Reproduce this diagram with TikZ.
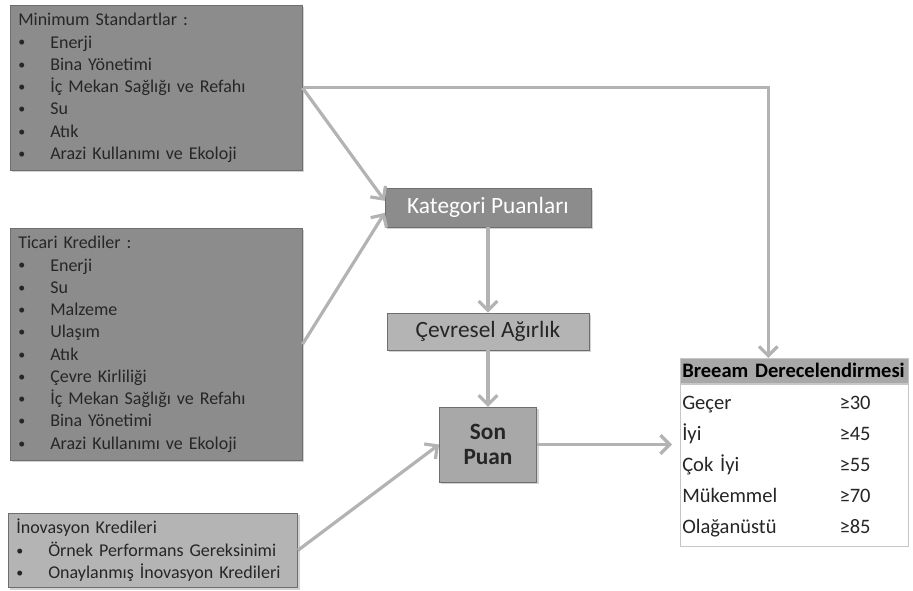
\documentclass[tikz,border=0pt]{standalone}
\usepackage{fontspec}
\setmainfont{Carlito}
\usetikzlibrary{arrows.meta, positioning, shadows}
\definecolor{boxdark}{HTML}{8C8C8C}
\definecolor{boxlight}{HTML}{B4B4B4}
\definecolor{boxmid}{HTML}{A8A8A8}
\definecolor{linegray}{HTML}{B3B3B3}
\definecolor{inkdark}{HTML}{262626}
\definecolor{edgegray}{HTML}{6E6E6E}
\newcommand{\itm}[1]{\makebox[24pt][l]{\raisebox{0.8pt}{\fontsize{10.5}{10.5}\selectfont\textbullet}}#1}
\tikzset{
  listbox/.style={rectangle, draw=edgegray, fill=boxdark, text=inkdark,
                  align=left, anchor=north west, inner xsep=6pt, inner ysep=6pt,
                  font=\fontsize{13.5}{16.7}\selectfont,
                  drop shadow={opacity=0.35, shadow xshift=1.5pt, shadow yshift=-1.5pt}},
  listboxL/.style={listbox, fill=boxlight},
  stepbox/.style={rectangle, draw=edgegray, fill=boxdark, align=center,
                  font=\fontsize{17.5}{20}\selectfont,
                  drop shadow={opacity=0.35, shadow xshift=1.5pt, shadow yshift=-1.5pt}},
  arrow/.style={-{Straight Barb[length=7pt, width=14pt]}, line width=2.4pt, draw=linegray},
}

\begin{document}
\begin{tikzpicture}[x=0.75pt, y=0.75pt]
  \useasboundingbox (0,0) rectangle (913,591);

  % input boxes
  \node[listbox, text width=207pt] (box1) at (10,586)
    {Minimum Standartlar :\\
     \itm{Enerji}\\
     \itm{Bina Yönetimi}\\
     \itm{İç Mekan Sağlığı ve Refahı}\\
     \itm{Su}\\
     \itm{Atık}\\
     \itm{Arazi Kullanımı ve Ekoloji}};

  \node[listbox, text width=207pt] (box2) at (10,363)
    {Ticari Krediler :\\
     \itm{Enerji}\\
     \itm{Su}\\
     \itm{Malzeme}\\
     \itm{Ulaşım}\\
     \itm{Atık}\\
     \itm{Çevre Kirliliği}\\
     \itm{İç Mekan Sağlığı ve Refahı}\\
     \itm{Bina Yönetimi}\\
     \itm{Arazi Kullanımı ve Ekoloji}};

  \node[listboxL, text width=205pt, inner ysep=4.5pt] (box3) at (8,78)
    {İnovasyon Kredileri\\
     \itm{Örnek Performans Gereksinimi}\\
     \itm{Onaylanmış İnovasyon Kredileri}};

  % scoring chain
  \node[stepbox, minimum width=154.5pt, minimum height=29pt, text=white] (kat)
    at (488,383.5) {Kategori Puanları};
  \node[stepbox, fill=boxlight, minimum width=151.5pt, minimum height=28pt,
        text=inkdark] (cev) at (488,259.5) {Çevresel Ağırlık};
  \node[stepbox, fill=boxmid, minimum width=73pt, minimum height=56pt, text=inkdark,
        font=\fontsize{17.5}{18.5}\selectfont\bfseries] (son) at (488,146.5) {Son\\Puan};

  % rating table
  \node[rectangle, draw=gray!45, fill=boxmid, anchor=north west, text width=168pt,
        minimum height=18.75pt, inner xsep=1.5pt, align=left, text=black,
        font=\fontsize{15.4}{18.5}\selectfont\bfseries] (hdr) at (680,233)
    {Breeam Derecelendirmesi};
  \node[rectangle, draw=gray!45, fill=white, below=0pt of hdr, text width=168pt,
        inner xsep=1.5pt, inner ysep=3pt, align=left, text=inkdark,
        font=\fontsize{15.4}{19}\selectfont] (tbl)
    {\renewcommand{\arraystretch}{1.22}%
     \begin{tabular}{@{}p{118pt}@{}l@{}}
       Geçer & ≥30\\
       İyi & ≥45\\
       Çok İyi & ≥55\\
       Mükemmel & ≥70\\
       Olağanüstü & ≥85
     \end{tabular}};
  \coordinate (brk) at ([xshift=-19.5pt]hdr.north);

  % connectors
  \draw[arrow] (box1.east) -- ([yshift=5pt]kat.west);
  \draw[arrow] (box2.east) -- ([yshift=-4pt]kat.west);
  \draw[arrow] (box1.east) -| (brk);
  \draw[arrow] (kat) -- (cev);
  \draw[arrow] (cev) -- (son);
  \draw[arrow] (box3.east) -- (son.west);
  \draw[arrow, shorten >=6pt] (son.east) -- (son.east -| tbl.west);
\end{tikzpicture}
\end{document}
